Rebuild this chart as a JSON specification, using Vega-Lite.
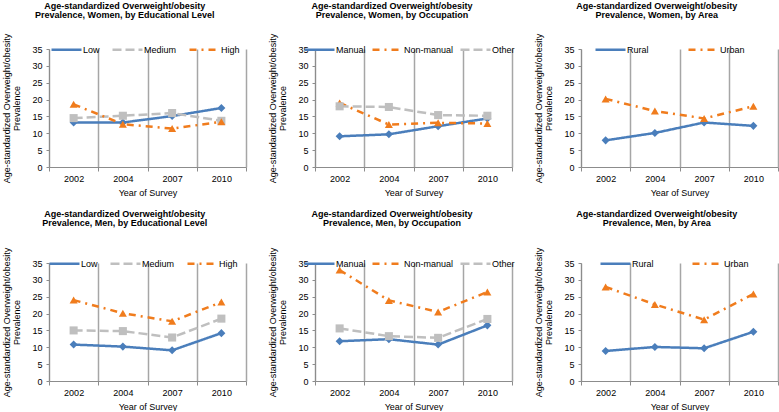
{
  "$schema": "https://vega.github.io/schema/vega-lite/v6.json",
  "padding": {"left": 2, "top": 1, "right": 0, "bottom": 0},
  "background": "white",
  "config": {
    "font": "Liberation Sans",
    "view": {"stroke": null},
    "axis": {"labelFont": "Liberation Sans", "labelFontSize": 9, "labelColor": "#000", "titleFont": "Liberation Sans", "titleFontSize": 9, "titleFontWeight": "normal", "titleColor": "#000", "domainColor": "#8c8c8c", "tickColor": "#8c8c8c"},
    "axisX": {"labelAngle": 0, "tickBand": "extent", "grid": true, "gridColor": "#a6a6a6", "gridWidth": 1.5, "tickSize": 4, "labelPadding": 3, "titlePadding": 5},
    "axisY": {"titleLineHeight": 10, "grid": false, "tickSize": 3, "labelPadding": 4, "titlePadding": 10},
    "legend": {"labelFont": "Liberation Sans", "labelFontSize": 9, "labelColor": "#000", "orient": "none", "legendY": -16, "direction": "horizontal", "symbolType": "stroke", "symbolSize": 900, "symbolStrokeWidth": 2.5, "labelOffset": 0, "title": null},
    "title": {"font": "Liberation Sans", "fontSize": 9, "fontWeight": "bold", "anchor": "middle", "frame": "bounds", "offset": 13, "lineHeight": 9.5},
    "line": {"strokeWidth": 2.5},
    "point": {"filled": true, "size": 65, "opacity": 1}
  },
  "datasets": {
    "d": [
      {"panel": "WE", "group": "Low", "year": "2002", "value": 13.2},
      {"panel": "WE", "group": "Low", "year": "2004", "value": 13.2},
      {"panel": "WE", "group": "Low", "year": "2007", "value": 15.1},
      {"panel": "WE", "group": "Low", "year": "2010", "value": 17.5},
      {"panel": "WE", "group": "Medium", "year": "2002", "value": 14.5},
      {"panel": "WE", "group": "Medium", "year": "2004", "value": 15.2},
      {"panel": "WE", "group": "Medium", "year": "2007", "value": 16.0},
      {"panel": "WE", "group": "Medium", "year": "2010", "value": 13.7},
      {"panel": "WE", "group": "High", "year": "2002", "value": 18.6},
      {"panel": "WE", "group": "High", "year": "2004", "value": 12.7},
      {"panel": "WE", "group": "High", "year": "2007", "value": 11.4},
      {"panel": "WE", "group": "High", "year": "2010", "value": 13.4},
      {"panel": "WO", "group": "Manual", "year": "2002", "value": 9.1},
      {"panel": "WO", "group": "Manual", "year": "2004", "value": 9.7},
      {"panel": "WO", "group": "Manual", "year": "2007", "value": 12.1},
      {"panel": "WO", "group": "Manual", "year": "2010", "value": 14.4},
      {"panel": "WO", "group": "Non-manual", "year": "2002", "value": 19.0},
      {"panel": "WO", "group": "Non-manual", "year": "2004", "value": 12.6},
      {"panel": "WO", "group": "Non-manual", "year": "2007", "value": 13.1},
      {"panel": "WO", "group": "Non-manual", "year": "2010", "value": 12.9},
      {"panel": "WO", "group": "Other", "year": "2002", "value": 18.0},
      {"panel": "WO", "group": "Other", "year": "2004", "value": 17.8},
      {"panel": "WO", "group": "Other", "year": "2007", "value": 15.4},
      {"panel": "WO", "group": "Other", "year": "2010", "value": 15.2},
      {"panel": "WA", "group": "Rural", "year": "2002", "value": 7.9},
      {"panel": "WA", "group": "Rural", "year": "2004", "value": 10.1},
      {"panel": "WA", "group": "Rural", "year": "2007", "value": 13.2},
      {"panel": "WA", "group": "Rural", "year": "2010", "value": 12.2},
      {"panel": "WA", "group": "Urban", "year": "2002", "value": 20.2},
      {"panel": "WA", "group": "Urban", "year": "2004", "value": 16.6},
      {"panel": "WA", "group": "Urban", "year": "2007", "value": 14.4},
      {"panel": "WA", "group": "Urban", "year": "2010", "value": 18.0},
      {"panel": "ME", "group": "Low", "year": "2002", "value": 10.8},
      {"panel": "ME", "group": "Low", "year": "2004", "value": 10.2},
      {"panel": "ME", "group": "Low", "year": "2007", "value": 9.1},
      {"panel": "ME", "group": "Low", "year": "2010", "value": 14.2},
      {"panel": "ME", "group": "Medium", "year": "2002", "value": 15.0},
      {"panel": "ME", "group": "Medium", "year": "2004", "value": 14.8},
      {"panel": "ME", "group": "Medium", "year": "2007", "value": 12.9},
      {"panel": "ME", "group": "Medium", "year": "2010", "value": 18.5},
      {"panel": "ME", "group": "High", "year": "2002", "value": 24.0},
      {"panel": "ME", "group": "High", "year": "2004", "value": 20.1},
      {"panel": "ME", "group": "High", "year": "2007", "value": 17.7},
      {"panel": "ME", "group": "High", "year": "2010", "value": 23.4},
      {"panel": "MO", "group": "Manual", "year": "2002", "value": 11.8},
      {"panel": "MO", "group": "Manual", "year": "2004", "value": 12.4},
      {"panel": "MO", "group": "Manual", "year": "2007", "value": 10.8},
      {"panel": "MO", "group": "Manual", "year": "2010", "value": 16.5},
      {"panel": "MO", "group": "Non-manual", "year": "2002", "value": 32.9},
      {"panel": "MO", "group": "Non-manual", "year": "2004", "value": 23.9},
      {"panel": "MO", "group": "Non-manual", "year": "2007", "value": 20.5},
      {"panel": "MO", "group": "Non-manual", "year": "2010", "value": 26.4},
      {"panel": "MO", "group": "Other", "year": "2002", "value": 15.6},
      {"panel": "MO", "group": "Other", "year": "2004", "value": 13.3},
      {"panel": "MO", "group": "Other", "year": "2007", "value": 12.8},
      {"panel": "MO", "group": "Other", "year": "2010", "value": 18.4},
      {"panel": "MA", "group": "Rural", "year": "2002", "value": 8.9},
      {"panel": "MA", "group": "Rural", "year": "2004", "value": 10.1},
      {"panel": "MA", "group": "Rural", "year": "2007", "value": 9.7},
      {"panel": "MA", "group": "Rural", "year": "2010", "value": 14.6},
      {"panel": "MA", "group": "Urban", "year": "2002", "value": 27.9},
      {"panel": "MA", "group": "Urban", "year": "2004", "value": 22.7},
      {"panel": "MA", "group": "Urban", "year": "2007", "value": 18.2},
      {"panel": "MA", "group": "Urban", "year": "2010", "value": 25.8}
    ]
  },
  "data": {"name": "d"},
  "columns": 3,
  "bounds": "flush",
  "spacing": {"row": 96, "column": 69},
  "resolve": {"scale": {"color": "independent", "strokeDash": "independent"}, "legend": {"color": "independent", "strokeDash": "independent"}},
  "concat": [
    {
      "width": 197, "height": 118,
      "title": {"text": ["Age-standardized Overweight/obesity", "Prevalence, Women, by Educational Level"]},
      "transform": [{"filter": "datum.panel === 'WE'"}],
      "encoding": {
        "x": {"field": "year", "type": "ordinal", "bandPosition": 0.5, "scale": {"type": "band", "paddingInner": 0, "paddingOuter": 0}, "axis": {"title": "Year of Survey"}},
        "y": {"field": "value", "type": "quantitative", "scale": {"domain": [0, 35]}, "axis": {"title": ["Age-standardized Overweight/obesity", "Prevalence"], "values": [0, 5, 10, 15, 20, 25, 30, 35]}},
        "color": {"field": "group", "type": "nominal", "scale": {"domain": ["Low", "Medium", "High"], "range": ["#4a7ebb", "#bfbfbf", "#f07c1d"]}, "legend": {"legendX": 1, "columnPadding": 7, "symbolType": "stroke"}},
        "strokeDash": {"field": "group", "type": "nominal", "scale": {"domain": ["Low", "Medium", "High"], "range": [[1, 0], [9, 4], [7, 5, 2, 5]]}, "legend": {"legendX": 1, "columnPadding": 7, "symbolType": "stroke"}}
      },
      "layer": [
        {"mark": "line"},
        {"mark": "point", "encoding": {"strokeDash": {"value": [1, 0]}, "shape": {"condition": [{"test": "datum.group === 'Low'", "value": "diamond"}, {"test": "datum.group === 'Medium'", "value": "square"}], "value": "triangle-up"}}}
      ]
    },
    {
      "width": 197, "height": 118,
      "title": {"text": ["Age-standardized Overweight/obesity", "Prevalence, Women, by Occupation"]},
      "transform": [{"filter": "datum.panel === 'WO'"}],
      "encoding": {
        "x": {"field": "year", "type": "ordinal", "bandPosition": 0.5, "scale": {"type": "band", "paddingInner": 0, "paddingOuter": 0}, "axis": {"title": "Year of Survey"}},
        "y": {"field": "value", "type": "quantitative", "scale": {"domain": [0, 35]}, "axis": {"title": ["Age-standardized Overweight/obesity", "Prevalence"], "values": [0, 5, 10, 15, 20, 25, 30, 35]}},
        "color": {"field": "group", "type": "nominal", "scale": {"domain": ["Manual", "Non-manual", "Other"], "range": ["#4a7ebb", "#f07c1d", "#bfbfbf"]}, "legend": {"legendX": -12, "columnPadding": 1, "symbolType": "stroke"}},
        "strokeDash": {"field": "group", "type": "nominal", "scale": {"domain": ["Manual", "Non-manual", "Other"], "range": [[1, 0], [7, 5, 2, 5], [9, 4]]}, "legend": {"legendX": -12, "columnPadding": 1, "symbolType": "stroke"}}
      },
      "layer": [
        {"mark": "line"},
        {"mark": "point", "encoding": {"strokeDash": {"value": [1, 0]}, "shape": {"condition": [{"test": "datum.group === 'Manual'", "value": "diamond"}, {"test": "datum.group === 'Other'", "value": "square"}], "value": "triangle-up"}}}
      ]
    },
    {
      "width": 197, "height": 118,
      "title": {"text": ["Age-standardized Overweight/obesity", "Prevalence, Women, by Area"]},
      "transform": [{"filter": "datum.panel === 'WA'"}],
      "encoding": {
        "x": {"field": "year", "type": "ordinal", "bandPosition": 0.5, "scale": {"type": "band", "paddingInner": 0, "paddingOuter": 0}, "axis": {"title": "Year of Survey"}},
        "y": {"field": "value", "type": "quantitative", "scale": {"domain": [0, 35]}, "axis": {"title": ["Age-standardized Overweight/obesity", "Prevalence"], "values": [0, 5, 10, 15, 20, 25, 30, 35]}},
        "color": {"field": "group", "type": "nominal", "scale": {"domain": ["Rural", "Urban"], "range": ["#4a7ebb", "#f07c1d"]}, "legend": {"legendX": 13, "columnPadding": 34, "symbolType": "stroke"}},
        "strokeDash": {"field": "group", "type": "nominal", "scale": {"domain": ["Rural", "Urban"], "range": [[1, 0], [7, 5, 2, 5]]}, "legend": {"legendX": 13, "columnPadding": 34, "symbolType": "stroke"}}
      },
      "layer": [
        {"mark": "line"},
        {"mark": "point", "encoding": {"strokeDash": {"value": [1, 0]}, "shape": {"condition": {"test": "datum.group === 'Rural'", "value": "diamond"}, "value": "triangle-up"}}}
      ]
    },
    {
      "width": 197, "height": 118,
      "title": {"text": ["Age-standardized Overweight/obesity", "Prevalence, Men, by Educational Level"], "offset": 19},
      "transform": [{"filter": "datum.panel === 'ME'"}],
      "encoding": {
        "x": {"field": "year", "type": "ordinal", "bandPosition": 0.5, "scale": {"type": "band", "paddingInner": 0, "paddingOuter": 0}, "axis": {"title": "Year of Survey"}},
        "y": {"field": "value", "type": "quantitative", "scale": {"domain": [0, 35]}, "axis": {"title": ["Age-standardized Overweight/obesity", "Prevalence"], "values": [0, 5, 10, 15, 20, 25, 30, 35]}},
        "color": {"field": "group", "type": "nominal", "scale": {"domain": ["Low", "Medium", "High"], "range": ["#4a7ebb", "#bfbfbf", "#f07c1d"]}, "legend": {"legendX": -1, "columnPadding": 7, "symbolType": "stroke"}},
        "strokeDash": {"field": "group", "type": "nominal", "scale": {"domain": ["Low", "Medium", "High"], "range": [[1, 0], [9, 4], [7, 5, 2, 5]]}, "legend": {"legendX": -1, "columnPadding": 7, "symbolType": "stroke"}}
      },
      "layer": [
        {"mark": "line"},
        {"mark": "point", "encoding": {"strokeDash": {"value": [1, 0]}, "shape": {"condition": [{"test": "datum.group === 'Low'", "value": "diamond"}, {"test": "datum.group === 'Medium'", "value": "square"}], "value": "triangle-up"}}}
      ]
    },
    {
      "width": 197, "height": 118,
      "title": {"text": ["Age-standardized Overweight/obesity", "Prevalence, Men, by Occupation"], "offset": 19},
      "transform": [{"filter": "datum.panel === 'MO'"}],
      "encoding": {
        "x": {"field": "year", "type": "ordinal", "bandPosition": 0.5, "scale": {"type": "band", "paddingInner": 0, "paddingOuter": 0}, "axis": {"title": "Year of Survey"}},
        "y": {"field": "value", "type": "quantitative", "scale": {"domain": [0, 35]}, "axis": {"title": ["Age-standardized Overweight/obesity", "Prevalence"], "values": [0, 5, 10, 15, 20, 25, 30, 35]}},
        "color": {"field": "group", "type": "nominal", "scale": {"domain": ["Manual", "Non-manual", "Other"], "range": ["#4a7ebb", "#f07c1d", "#bfbfbf"]}, "legend": {"legendX": -12, "columnPadding": 1, "symbolType": "stroke"}},
        "strokeDash": {"field": "group", "type": "nominal", "scale": {"domain": ["Manual", "Non-manual", "Other"], "range": [[1, 0], [7, 5, 2, 5], [9, 4]]}, "legend": {"legendX": -12, "columnPadding": 1, "symbolType": "stroke"}}
      },
      "layer": [
        {"mark": "line"},
        {"mark": "point", "encoding": {"strokeDash": {"value": [1, 0]}, "shape": {"condition": [{"test": "datum.group === 'Manual'", "value": "diamond"}, {"test": "datum.group === 'Other'", "value": "square"}], "value": "triangle-up"}}}
      ]
    },
    {
      "width": 197, "height": 118,
      "title": {"text": ["Age-standardized Overweight/obesity", "Prevalence, Men, by Area"], "offset": 19},
      "transform": [{"filter": "datum.panel === 'MA'"}],
      "encoding": {
        "x": {"field": "year", "type": "ordinal", "bandPosition": 0.5, "scale": {"type": "band", "paddingInner": 0, "paddingOuter": 0}, "axis": {"title": "Year of Survey"}},
        "y": {"field": "value", "type": "quantitative", "scale": {"domain": [0, 35]}, "axis": {"title": ["Age-standardized Overweight/obesity", "Prevalence"], "values": [0, 5, 10, 15, 20, 25, 30, 35]}},
        "color": {"field": "group", "type": "nominal", "scale": {"domain": ["Rural", "Urban"], "range": ["#4a7ebb", "#f07c1d"]}, "legend": {"legendX": 18, "columnPadding": 33, "symbolType": "stroke"}},
        "strokeDash": {"field": "group", "type": "nominal", "scale": {"domain": ["Rural", "Urban"], "range": [[1, 0], [7, 5, 2, 5]]}, "legend": {"legendX": 18, "columnPadding": 33, "symbolType": "stroke"}}
      },
      "layer": [
        {"mark": "line"},
        {"mark": "point", "encoding": {"strokeDash": {"value": [1, 0]}, "shape": {"condition": {"test": "datum.group === 'Rural'", "value": "diamond"}, "value": "triangle-up"}}}
      ]
    }
  ]
}
